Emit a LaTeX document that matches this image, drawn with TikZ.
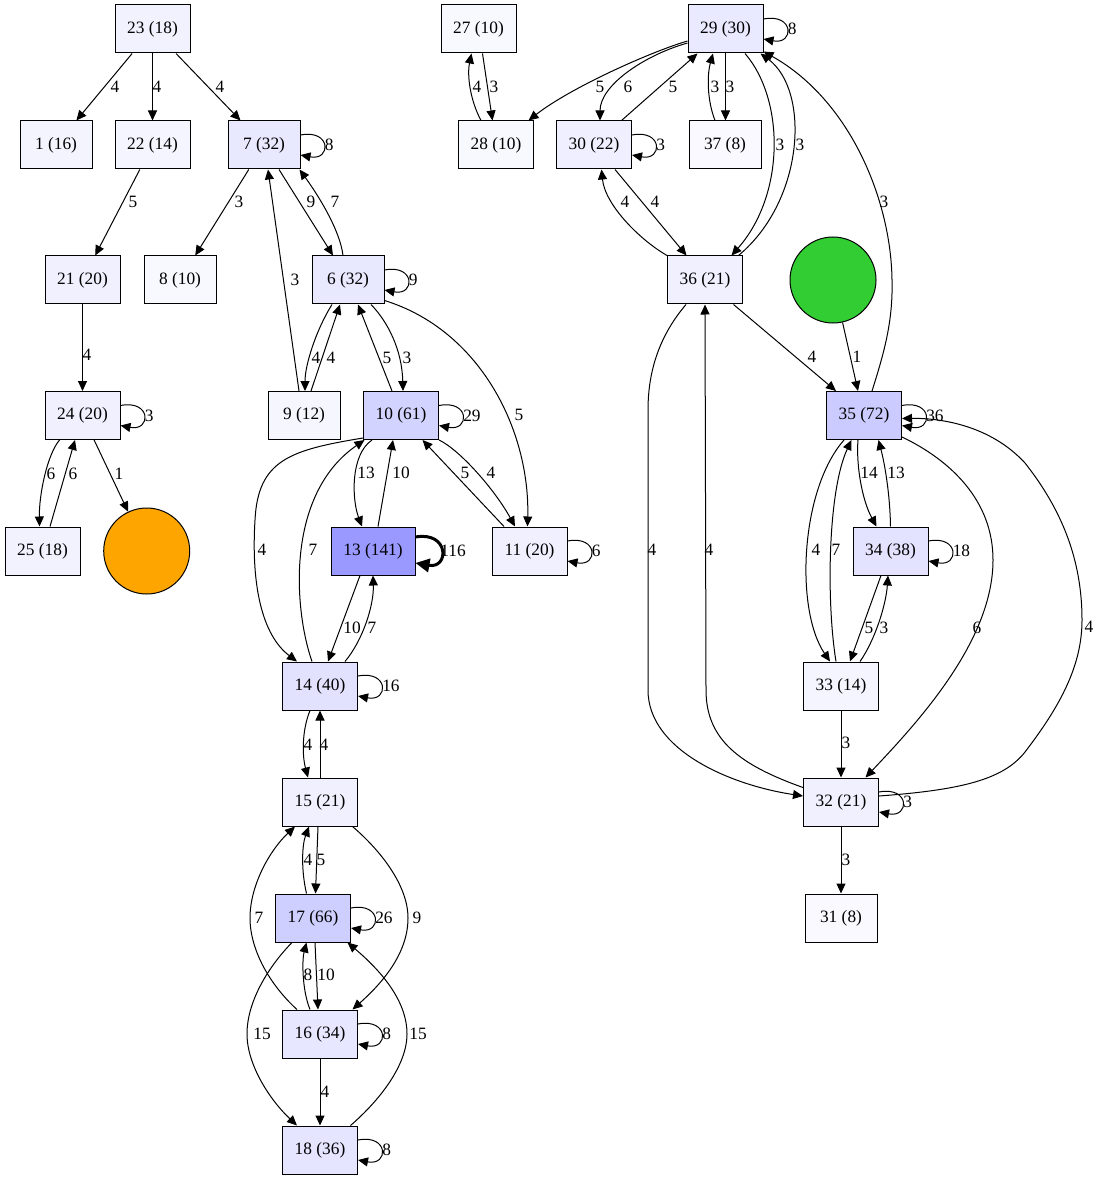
\documentclass[tikz,border=0pt]{standalone}
\usepackage{fontspec}
\setmainfont{Liberation Serif}
\usetikzlibrary{arrows.meta,calc}
\definecolor{gvorange}{HTML}{FFA500}
\definecolor{gvgreen}{HTML}{32CD32}
\newcommand\gvfont{\fontsize{13}{15}\selectfont}
% self loop on the right side of a box, with its count
\newcommand\gvloop[2]{%
  \draw[gvedge] ($(#1.east)+(0,-10)$) .. controls +(31,-6) and +(31,6) .. ($(#1.east)+(0,10)$);
  \node[gvlbl,anchor=west] (#1-self) at ($(#1.east)+(24,0)$) {#2};}
\begin{document}
\begin{tikzpicture}[x=0.75pt,y=-0.75pt,
  gvbox/.style={draw=black,line width=0.75pt,rectangle,minimum width=56.25pt,
    minimum height=36pt,inner sep=0pt,font=\gvfont},
  thin/.style={minimum width=54pt},
  broad/.style={minimum width=63pt},
  tint/.style={fill=blue!#1!white},
  blob/.style={circle,draw=black,line width=0.75pt,minimum size=64.5pt,inner sep=0pt},
  gvedge/.style={draw=black,line width=0.75pt,-{Triangle[length=7.5pt,width=6.75pt]}},
  heavy/.style={line width=2.25pt,-{Triangle[length=10.5pt,width=10pt]}},
  gvlbl/.style={inner sep=0pt,font=\gvfont}]
\fill[white] (0,0) rectangle (1099,1180);
\useasboundingbox (0,0) rectangle (1099,1180);

% ---------- left cluster: boxes ----------
\node[gvbox,tint=5.1] (n23) at (152.5,29) {23 (18)};
\node[gvbox,thin,tint=4.5] (n1) at (56,145) {1 (16)};
\node[gvbox,tint=4.0] (n22) at (152.5,145) {22 (14)};
\node[gvbox,thin,tint=9.1] (n7) at (264,145) {7 (32)};
\node[gvbox,tint=5.7] (n21) at (82.5,280) {21 (20)};
\node[gvbox,thin,tint=2.8] (n8) at (180,280) {8 (10)};
\node[gvbox,thin,tint=9.1] (n6) at (348,280) {6 (32)};
\node[gvbox,tint=5.7] (n24) at (82.5,415.5) {24 (20)};
\node[gvbox,thin,tint=3.4] (n9) at (304,415.5) {9 (12)};
\node[gvbox,tint=17.3] (n10) at (401,415.5) {10 (61)};
\node[gvbox,tint=5.1] (n25) at (42.5,551) {25 (18)};
\node[blob,fill=gvorange] (nOrange) at (146.7,551) {};
\node[gvbox,broad,tint=40] (n13) at (373,551) {13 (141)};
\node[gvbox,tint=5.7] (n11) at (529.5,551) {11 (20)};
\node[gvbox,tint=11.3] (n14) at (320,686) {14 (40)};
\node[gvbox,tint=6.0] (n15) at (320,802) {15 (21)};
\node[gvbox,tint=18.7] (n17) at (313,918) {17 (66)};
\node[gvbox,tint=9.6] (n16) at (320,1034) {16 (34)};
\node[gvbox,tint=10.2] (n18) at (320,1150) {18 (36)};

% ---------- right cluster: boxes ----------
\node[gvbox,tint=2.8] (n27) at (478.5,29) {27 (10)};
\node[gvbox,tint=8.5] (n29) at (725.5,29) {29 (30)};
\node[gvbox,tint=2.8] (n28) at (496,145) {28 (10)};
\node[gvbox,tint=6.2] (n30) at (594,145) {30 (22)};
\node[gvbox,thin,tint=2.3] (n37) at (725,145) {37 (8)};
\node[gvbox,tint=6.0] (n36) at (705,280) {36 (21)};
\node[blob,fill=gvgreen] (nGreen) at (833,280) {};
\node[gvbox,tint=20.4] (n35) at (864,415.5) {35 (72)};
\node[gvbox,tint=10.8] (n34) at (890.5,551) {34 (38)};
\node[gvbox,tint=4.0] (n33) at (841,686) {33 (14)};
\node[gvbox,tint=6.0] (n32) at (841,802) {32 (21)};
\node[gvbox,thin,tint=2.3] (n31) at (841,918) {31 (8)};

% ---------- left cluster: connectors ----------
\draw[gvedge] (n23) -- (n1);
\draw[gvedge] (n23) -- (n22);
\draw[gvedge] (n23) -- (n7);
\gvloop{n7}{8}
\draw[gvedge] (n22) -- (n21);
\draw[gvedge] (n7) -- (n8);
\draw[gvedge] ($(n7.south)+(15,0)$) -- ($(n6.north)+(-15,0)$);
\draw[gvedge] ($(n6.north)+(-5,0)$) .. controls (340,230) and (318,195) .. ($(n7.south east)+(-1,0)$);
\draw[gvedge] ($(n9.north)+(-5,0)$) -- ($(n7.south)+(4,0)$);
\gvloop{n6}{9}
\draw[gvedge] ($(n6.south)+(-16,0)$) .. controls (316,330) and (305,365) .. ($(n9.north)+(1,0)$);
\draw[gvedge] ($(n9.north)+(7,0)$) -- ($(n6.south)+(-8,0)$);
\draw[gvedge] ($(n10.north)+(-9,0)$) -- ($(n6.south)+(10,0)$);
\draw[gvedge] ($(n6.south)+(23,0)$) .. controls (388,322) and (402,350) .. ($(n10.north)+(2,0)$);
\draw[gvedge] ($(n6.south east)+(0,-4)$) .. controls (480,330) and (530,430) .. ($(n11.north)+(-2,0)$);
\draw[gvedge] (n21) -- (n24);
\gvloop{n24}{3}
\draw[gvedge] ($(n24.south)+(-23,0)$) .. controls (47,455) and (39,495) .. ($(n25.north)+(-3,0)$);
\draw[gvedge] ($(n25.north)+(7.5,0)$) -- ($(n24.south)+(-7.5,0)$);
\draw[gvedge] (n24) -- (nOrange);
\gvloop{n10}{29}
\draw[gvedge] ($(n10.south west)+(0,-2)$) .. controls (290,450) and (258,460) .. (255,520)
  .. controls (251,585) and (262,635) .. ($(n14.north)+(-23,0)$);
\draw[gvedge] ($(n14.north)+(-8,0)$) .. controls (294,610) and (285,495) .. ($(n10.south west)+(1.5,0)$);
\draw[gvedge] ($(n10.south)+(-29,0)$) .. controls (350,455) and (352,500) .. ($(n13.north)+(-11,0)$);
\draw[gvedge] ($(n13.north)+(5,0)$) -- ($(n10.south)+(-8,0)$);
\draw[gvedge] ($(n11.north)+(-25.5,0)$) -- ($(n10.south)+(21.5,0)$);
\draw[gvedge] (n10.south east) .. controls (460,450) and (495,490) .. ($(n11.north)+(-14.5,0)$);
\draw[gvedge,heavy] ($(n13.east)+(0,-14)$) .. controls +(34,-6) and +(34,6) .. ($(n13.east)+(0,12)$);
\node[gvlbl] (n13-self) at (453,551) {116};
\gvloop{n11}{6}
\draw[gvedge] ($(n13.south)+(-13,0)$) -- ($(n14.north)+(8,0)$);
\draw[gvedge] ($(n14.north)+(25,0)$) .. controls (363,640) and (374,605) .. (n13.south);
\gvloop{n14}{16}
\draw[gvedge] ($(n14.south)+(-10,0)$) .. controls (302,730) and (302,755) .. ($(n15.north)+(-12,0)$);
\draw[gvedge] (n15.north) -- (n14.south);
\draw[gvedge] ($(n15.south)+(-2,0)$) -- ($(n17.north)+(2.5,0)$);
\draw[gvedge] ($(n17.north)+(-6.5,0)$) .. controls (301,870) and (302,845) .. ($(n15.south)+(-11,0)$);
\draw[gvedge] ($(n16.north)+(-23,0)$) .. controls (270,985) and (250,950) .. (250,918)
  .. controls (250,885) and (270,850) .. ($(n15.south)+(-25,0)$);
\draw[gvedge] ($(n15.south east)+(-5.5,0)$) .. controls (380,850) and (408,885) .. (408,918)
  .. controls (408,955) and (380,985) .. ($(n16.north east)+(-5.5,0)$);
\gvloop{n17}{26}
\draw[gvedge] ($(n17.south)+(2,0)$) -- ($(n16.north)+(-2,0)$);
\draw[gvedge] ($(n16.north)+(-10,0)$) .. controls (302,990) and (302,960) .. ($(n17.south)+(-6.5,0)$);
\draw[gvedge] ($(n17.south)+(-21,0)$) .. controls (270,965) and (247,1000) .. (247,1034)
  .. controls (247,1065) and (270,1100) .. ($(n18.north)+(-23,0)$);
\draw[gvedge] ($(n18.north east)+(-7.5,0)$) .. controls (380,1100) and (407,1065) .. (407,1034)
  .. controls (407,1000) and (380,970) .. ($(n17.south east)+(-3.5,0)$);
\gvloop{n16}{8}
\draw[gvedge] (n16) -- (n18);
\gvloop{n18}{8}

% ---------- right cluster: connectors ----------
\draw[gvedge] ($(n28.north)+(-15,0)$) .. controls (470,100) and (467,75) .. ($(n27.south)+(-7,0)$);
\draw[gvedge] ($(n27.south)+(4,0)$) -- ($(n28.north)+(-3.5,0)$);
\draw[gvedge] ($(n29.west)+(0,12)$) .. controls (650,52) and (570,88) .. ($(n28.north east)+(-5.5,0)$);
\draw[gvedge] ($(n29.west)+(0,14)$) .. controls (645,55) and (600,85) .. ($(n30.north)+(6,0)$);
\draw[gvedge] ($(n30.north)+(27.5,0)$) -- ($(n29.south west)+(10,0)$);
\gvloop{n29}{8}
\draw[gvedge] ($(n37.north)+(-10,0)$) .. controls (707,100) and (707,75) .. ($(n29.south)+(-12.5,0)$);
\draw[gvedge] (n29.south) -- ($(n37.north)+(0.5,0)$);
\gvloop{n30}{3}
\draw[gvedge] ($(n29.south)+(19.5,0)$) .. controls (785,100) and (785,195) .. ($(n36.north)+(26.5,0)$);
\draw[gvedge] ($(n36.north east)+(-4.5,0)$) .. controls (805,200) and (810,90) .. ($(n29.south east)+(-3,0)$);
\draw[gvedge] ($(n35.north)+(8,0)$) .. controls (885,350) and (893,320) .. (892,280)
  .. controls (891,200) and (850,100) .. ($(n29.south east)+(0,-2)$);
\draw[gvedge] (n36.north west) .. controls (640,240) and (605,205) .. ($(n30.south)+(7.5,0)$);
\draw[gvedge] ($(n30.south)+(21,0)$) -- ($(n36.north)+(-18.5,0)$);
\draw[gvedge] ($(n36.south east)+(-9.5,0)$) -- ($(n35.north west)+(10,0)$);
\draw[gvedge] (nGreen) -- ($(n35.north)+(-6,0)$);
\gvloop{n35}{36}
\draw[gvedge] ($(n36.south)+(-19,0)$) .. controls (660,335) and (648,370) .. (648,410) -- (648,690)
  .. controls (648,750) and (730,785) .. ($(n32.west)+(0,-6)$);
\draw[gvedge] ($(n32.north west)+(0,10)$) .. controls (740,765) and (706,740) .. (706,690) -- (n36.south);
\draw[gvedge] ($(n35.south)+(-20,0)$) .. controls (800,490) and (795,610) .. ($(n33.north)+(-11,0)$);
\draw[gvedge] ($(n33.north)+(-5,0)$) .. controls (826,600) and (828,490) .. ($(n35.south)+(-12.5,0)$);
\draw[gvedge] ($(n35.south)+(-6,0)$) .. controls (856,465) and (862,500) .. ($(n34.north)+(-14,0)$);
\draw[gvedge] (n34.north) .. controls (890,495) and (885,465) .. ($(n35.south)+(14.5,0)$);
\gvloop{n34}{18}
\draw[gvedge] ($(n34.south)+(-9.5,0)$) -- ($(n33.north)+(9,0)$);
\draw[gvedge] ($(n33.north)+(19,0)$) .. controls (875,640) and (886,605) .. ($(n34.south)+(-2.5,0)$);
\draw[gvedge] ($(n35.south east)+(0,-3)$) .. controls (950,460) and (993,500) .. (993,560)
  .. controls (993,640) and (920,720) .. ($(n32.north east)+(-13.5,0)$);
\draw[gvedge] ($(n32.east)+(0,-6)$) .. controls (960,790) and (1003,780) .. (1025,752)
  .. controls (1061,705) and (1082,665) .. (1082,620) .. controls (1082,560) and (1062,510) .. (1025,463)
  .. controls (990,425) and (940,418) .. ($(n35.east)+(0,3)$);
\draw[gvedge] (n33) -- (n32);
\gvloop{n32}{3}
\draw[gvedge] (n32) -- (n31);

% ---------- connector counts ----------
\node[gvlbl] (l23-1) at (115,87) {4};
\node[gvlbl] (l23-22) at (157,87) {4};
\node[gvlbl] (l23-7) at (220,87) {4};
\node[gvlbl] (l22-21) at (133,202) {5};
\node[gvlbl] (l7-8) at (239,202) {3};
\node[gvlbl] (l7-6) at (311,202) {9};
\node[gvlbl] (l6-7) at (335,202) {7};
\node[gvlbl] (l9-7) at (295,280) {3};
\node[gvlbl] (l21-24) at (87,355) {4};
\node[gvlbl] (l6-9) at (316,358) {4};
\node[gvlbl] (l9-6) at (331,358) {4};
\node[gvlbl] (l10-6) at (387,358) {5};
\node[gvlbl] (l6-10) at (407,358) {3};
\node[gvlbl] (l6-11) at (519,415) {5};
\node[gvlbl] (l24-25) at (51,474) {6};
\node[gvlbl] (l25-24) at (73,474) {6};
\node[gvlbl] (l24-o) at (119,474) {1};
\node[gvlbl] (l10-13) at (366,473) {13};
\node[gvlbl] (l13-10) at (401,473) {10};
\node[gvlbl] (l11-10) at (465,473) {5};
\node[gvlbl] (l10-11) at (491,473) {4};
\node[gvlbl] (l10-14) at (262,550) {4};
\node[gvlbl] (l14-10) at (313,550) {7};
\node[gvlbl] (l13-14) at (352,628) {10};
\node[gvlbl] (l14-13) at (372,628) {7};
\node[gvlbl] (l14-15) at (308,745) {4};
\node[gvlbl] (l15-14) at (324,745) {4};
\node[gvlbl] (l17-15) at (308,860) {4};
\node[gvlbl] (l15-17) at (321,860) {5};
\node[gvlbl] (l16-15) at (259,918) {7};
\node[gvlbl] (l15-16) at (417,918) {9};
\node[gvlbl] (l16-17) at (308,975) {8};
\node[gvlbl] (l17-16) at (326,975) {10};
\node[gvlbl] (l17-18) at (262,1034) {15};
\node[gvlbl] (l18-17) at (418,1034) {15};
\node[gvlbl] (l16-18) at (325,1092) {4};
\node[gvlbl] (l28-27) at (477,87) {4};
\node[gvlbl] (l27-28) at (494,87) {3};
\node[gvlbl] (l29-28) at (600,87) {5};
\node[gvlbl] (l29-30) at (628,87) {6};
\node[gvlbl] (l30-29) at (673,87) {5};
\node[gvlbl] (l37-29) at (715,87) {3};
\node[gvlbl] (l29-37) at (730,87) {3};
\node[gvlbl] (l29-36) at (780,145) {3};
\node[gvlbl] (l36-29) at (800,145) {3};
\node[gvlbl] (l35-29) at (884,202) {3};
\node[gvlbl] (l36-30) at (625,202) {4};
\node[gvlbl] (l30-36) at (655,202) {4};
\node[gvlbl] (l36-35) at (812,357) {4};
\node[gvlbl] (lg-35) at (857,357) {1};
\node[gvlbl] (l36-32) at (652,550) {4};
\node[gvlbl] (l32-36) at (709,550) {4};
\node[gvlbl] (l35-33) at (816,550) {4};
\node[gvlbl] (l33-35) at (836,550) {7};
\node[gvlbl] (l35-34) at (869,473) {14};
\node[gvlbl] (l34-35) at (896,473) {13};
\node[gvlbl] (l34-33) at (869,628) {5};
\node[gvlbl] (l33-34) at (884,628) {3};
\node[gvlbl] (l35-32) at (977,628) {6};
\node[gvlbl] (l32-35) at (1089,627) {4};
\node[gvlbl] (l33-32) at (846,743) {3};
\node[gvlbl] (l32-31) at (846,860) {3};
\end{tikzpicture}
\end{document}
